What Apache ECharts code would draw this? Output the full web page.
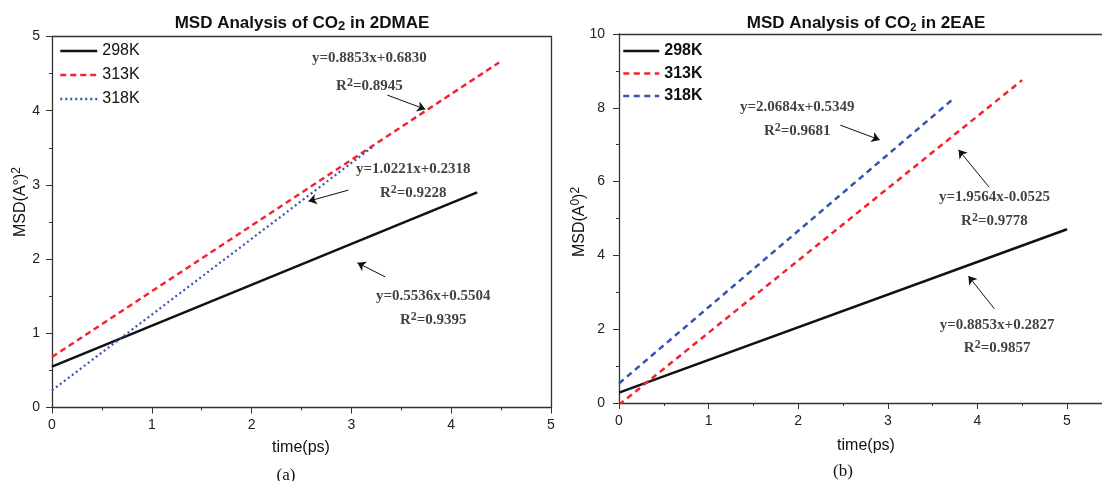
<!DOCTYPE html>
<html>
<head>
<meta charset="utf-8">
<script src="https://cdn.jsdelivr.net/npm/echarts@6/dist/echarts.min.js"></script>
<style>
html,body{margin:0;padding:0;background:#fff;}
#chart{width:1102px;height:481px;}
</style>
</head>
<body>
<div id="chart"></div>
<script>
// temperatures (legend)
var temps = ['298K', '313K', '318K'];

// (a) 2DMAE : fitted lines, [time(ps), MSD]
var msdA298 = [[0, 0.55], [4.26, 2.90]];
var msdA313 = [[0, 0.68], [4.48, 4.65]];
var msdA318 = [[0, 0.23], [3.21, 3.51]];

// (b) 2EAE
var msdB298 = [[0, 0.28], [5.0, 4.71]];
var msdB313 = [[0, -0.05], [4.50, 8.75]];
var msdB318 = [[0, 0.53], [3.71, 8.20]];

// fit texts
var fitsA = [['y=0.8853x+0.6830', '0.8945'], ['y=1.0221x+0.2318', '0.9228'], ['y=0.5536x+0.5504', '0.9395']];
var fitsB = [['y=2.0684x+0.5349', '0.9681'], ['y=1.9564x-0.0525', '0.9778'], ['y=0.8853x+0.2827', '0.9857']];

// where the fit texts and arrows sit (data units)
var noteA = [[3.18, 4.71, 4.33], [3.62, 3.21, 2.89], [3.82, 1.50, 1.18]];
var arrowA = [[3.36, 4.21, 3.74, 4.02], [2.97, 2.93, 2.57, 2.78], [3.34, 1.76, 3.06, 1.95]];
var noteB = [[1.99, 8.02, 7.37], [4.19, 5.58, 4.93], [4.22, 2.11, 1.49]];
var arrowB = [[2.47, 7.53, 2.91, 7.13], [4.13, 5.85, 3.79, 6.86], [4.19, 2.55, 3.90, 3.44]];

var SANS = 'Liberation Sans';
var SERIF = 'Liberation Serif';
var RED = '#f5222d';
var BLUE = '#3553b0';

var chart = echarts.init(document.getElementById('chart'));

function axisX(grid, max, pos) {
  var main = pos !== 'top';
  return {
    type: 'value', gridIndex: grid, min: 0, max: max, interval: 1, position: pos || 'bottom',
    axisLine: {show: true, onZero: false, lineStyle: {color: '#333', width: 1.3}},
    axisTick: {show: main, length: 6, lineStyle: {color: '#333'}},
    minorTick: {show: main, splitNumber: 2, length: 3, lineStyle: {color: '#333'}},
    axisLabel: {show: main, margin: 11, color: '#222', fontFamily: SANS, fontSize: 14},
    splitLine: {show: false}, minorSplitLine: {show: false}
  };
}
function axisY(grid, max, step, margin, pos) {
  var main = pos !== 'right';
  return {
    type: 'value', gridIndex: grid, min: 0, max: max, interval: step, position: pos || 'left',
    axisLine: {show: true, onZero: false, lineStyle: {color: '#333', width: 1.3}},
    axisTick: {show: main, length: 6, lineStyle: {color: '#333'}},
    minorTick: {show: main, splitNumber: 2, length: 3, lineStyle: {color: '#333'}},
    axisLabel: {show: main, margin: margin, color: '#222', fontFamily: SANS, fontSize: 14},
    splitLine: {show: false}, minorSplitLine: {show: false}
  };
}

function line(name, xi, yi, data, color, dash, width) {
  return {
    name: name, type: 'line', xAxisIndex: xi, yAxisIndex: yi, data: data,
    symbol: 'none', clip: true, silent: true,
    lineStyle: {color: color, width: width, type: dash},
    itemStyle: {color: color}
  };
}

var rich = {
  t: {fontFamily: SERIF, fontWeight: 'bold', fontSize: 15, color: '#111', lineHeight: 19},
  s: {fontFamily: SERIF, fontWeight: 'bold', fontSize: 12, color: '#111', lineHeight: 10, verticalAlign: 'top'}
};

function notes(xi, yi, fits, pos, arrows) {
  var data = [];
  for (var i = 0; i < fits.length; i++) {
    data.push({value: [pos[i][0], pos[i][1]], eq: fits[i][0]});
    data.push({value: [pos[i][0], pos[i][2]], r2: fits[i][1]});
  }
  return {
    type: 'scatter', xAxisIndex: xi, yAxisIndex: yi, symbolSize: 0, silent: true, data: data,
    label: {
      show: true, position: 'inside', align: 'center', verticalAlign: 'middle',
      formatter: function (p) {
        return p.data.r2 ? '{t|R}{s|2}{t|=' + p.data.r2 + '}' : '{t|' + p.data.eq + '}';
      },
      rich: rich
    },
    markLine: {
      silent: true, animation: false, symbol: ['none', 'arrow'], symbolSize: 8,
      lineStyle: {color: '#111', width: 1, type: 'solid'}, label: {show: false},
      data: arrows.map(function (a) { return [{coord: [a[0], a[1]]}, {coord: [a[2], a[3]]}]; })
    }
  };
}

function titleText(x, y, label, subSize) {
  return {
    type: 'text', x: x, y: y, silent: true,
    style: {
      text: '{t|MSD Analysis of CO}{u|2}{t| in ' + label + '}',
      align: 'center', verticalAlign: 'middle',
      rich: {
        t: {fontFamily: SANS, fontWeight: 'bold', fontSize: 17, fill: '#111', lineHeight: 20},
        u: {fontFamily: SANS, fontWeight: 'bold', fontSize: subSize, fill: '#111', lineHeight: subSize, verticalAlign: 'bottom'}
      }
    }
  };
}
function plainText(x, y, txt, font, size, weight) {
  return {
    type: 'text', x: x, y: y, silent: true,
    style: {text: txt, fontFamily: font, fontSize: size, fontWeight: weight || 'normal', fill: '#111', align: 'center', verticalAlign: 'middle'}
  };
}
function yName(x, y, txt) {
  return {
    type: 'text', x: x, y: y, rotation: Math.PI / 2, silent: true,
    style: {
      text: txt, align: 'center', verticalAlign: 'middle',
      rich: {
        t: {fontFamily: SANS, fontSize: 16, fill: '#111', lineHeight: 20},
        s: {fontFamily: SANS, fontSize: 12, fill: '#111', lineHeight: 10, verticalAlign: 'top'}
      }
    }
  };
}

var option = {
  animation: false,
  backgroundColor: '#fff',
  grid: [
    {left: 52, width: 499, top: 36.5, height: 371, outerBoundsMode: 'none', containLabel: false},
    {left: 619, width: 537.6, top: 34, height: 369, outerBoundsMode: 'none', containLabel: false}
  ],
  xAxis: [axisX(0, 5), axisX(0, 5, 'top'), axisX(1, 6), axisX(1, 6, 'top')],
  yAxis: [axisY(0, 5, 1, 12), axisY(0, 5, 1, 12, 'right'), axisY(1, 10, 2, 14)],
  legend: [
    {
      orient: 'vertical', left: 59, top: 43, padding: 0, itemWidth: 37, itemHeight: 14, itemGap: 8,
      itemStyle: {opacity: 0}, lineStyle: {width: 2.5},
      data: temps.map(function (t) { return 'a:' + t; }),
      formatter: function (n) { return n.split(':')[1]; },
      textStyle: {fontFamily: SANS, fontSize: 16, color: '#111'}
    },
    {
      orient: 'vertical', left: 622, top: 43, padding: 0, itemWidth: 36, itemHeight: 14, itemGap: 6.5,
      itemStyle: {opacity: 0}, lineStyle: {width: 2.5},
      data: temps.map(function (t) { return 'b:' + t; }),
      formatter: function (n) { return n.split(':')[1]; },
      textStyle: {fontFamily: SANS, fontSize: 16, fontWeight: 'bold', color: '#111'}
    }
  ],
  series: [
    line('a:' + temps[0], 0, 0, msdA298, '#111', 'solid', 2.5),
    line('a:' + temps[1], 0, 0, msdA313, RED, [6, 4], 2.5),
    line('a:' + temps[2], 0, 0, msdA318, BLUE, [2, 3], 2.2),
    line('b:' + temps[0], 2, 2, msdB298, '#111', 'solid', 2.5),
    line('b:' + temps[1], 2, 2, msdB313, RED, [6, 4.5], 2.5),
    line('b:' + temps[2], 2, 2, msdB318, BLUE, [6, 4.5], 2.5),
    notes(0, 0, fitsA, noteA, arrowA),
    notes(2, 2, fitsB, noteB, arrowB)
  ],
  graphic: [
    titleText(302, 23, '2DMAE', 13),
    titleText(866, 23, '2EAE', 11),
    yName(21, 202, '{t|MSD(A°)}{s|2}'),
    yName(580, 222, '{t|MSD(A}{s|0}{t|)}{s|2}'),
    plainText(301, 448, 'time(ps)', SANS, 16),
    plainText(866, 446, 'time(ps)', SANS, 16),
    plainText(286, 476, '(a)', SERIF, 17),
    plainText(843, 472, '(b)', SERIF, 17)
  ]
};

chart.setOption(option);
window.addEventListener('resize', function () { chart.resize(); });
</script>
</body>
</html>
